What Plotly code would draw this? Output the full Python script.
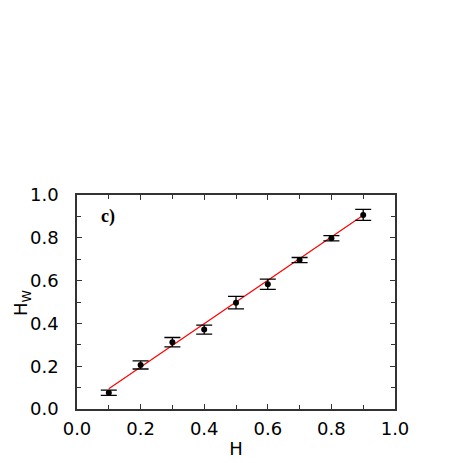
import plotly.graph_objects as go

# measured points
h = [0.1, 0.2, 0.3, 0.4, 0.5, 0.6, 0.7, 0.8, 0.9]
hw = [0.076, 0.206, 0.312, 0.371, 0.497, 0.583, 0.696, 0.798, 0.907]
hw_err = [0.012, 0.019, 0.022, 0.021, 0.029, 0.024, 0.012, 0.012, 0.026]

# linear fit endpoints
fit_h = [0.1, 0.9]
fit_hw = [0.095, 0.905]

font = "DejaVu Sans, sans-serif"

fig = go.Figure()
fig.add_trace(go.Scatter(
    x=fit_h, y=fit_hw, mode="lines",
    line=dict(color="red", width=1.2), showlegend=False, hoverinfo="skip",
))
fig.add_trace(go.Scatter(
    x=h, y=hw, mode="markers",
    marker=dict(color="black", size=6),
    error_y=dict(type="data", array=hw_err, color="black", thickness=1.3, width=8),
    showlegend=False,
))

axis = dict(
    range=[0, 1], dtick=0.2, tickformat=".1f",
    showline=True, linecolor="#333", linewidth=1.5, mirror="ticks",
    ticks="inside", ticklen=5, tickcolor="#333", tickwidth=1,
    minor=dict(ticks="inside", dtick=0.1, ticklen=4, tickcolor="#333"),
    showgrid=False, zeroline=False, automargin=False,
    tickfont=dict(family=font, size=18, color="black"),
)

fig.update_xaxes(**axis, title=dict(text="H", font=dict(family=font, size=18, color="black"), standoff=4),
                 ticklabelstandoff=3)
fig.update_yaxes(**axis, ticklabelstandoff=13)

# y title pushed to the left edge of the figure
fig.add_annotation(
    x=-0.217, y=0.5, xref="paper", yref="paper", xanchor="left", yanchor="middle",
    text="H<sub>W</sub>", textangle=-90, showarrow=False,
    font=dict(family=font, size=18, color="black"),
)

fig.add_annotation(
    x=0.07, y=0.9, xref="x", yref="y", xanchor="left", yanchor="middle",
    text="<b>c)</b>", showarrow=False,
    font=dict(family="Liberation Serif, Times New Roman, serif", size=18, color="black"),
)

# margins offset by the page's 8px body margin
fig.update_layout(
    width=463, height=463,
    margin=dict(l=69, r=76, t=187, b=62),
    plot_bgcolor="white", paper_bgcolor="white",
)

fig.write_html("out.html")
